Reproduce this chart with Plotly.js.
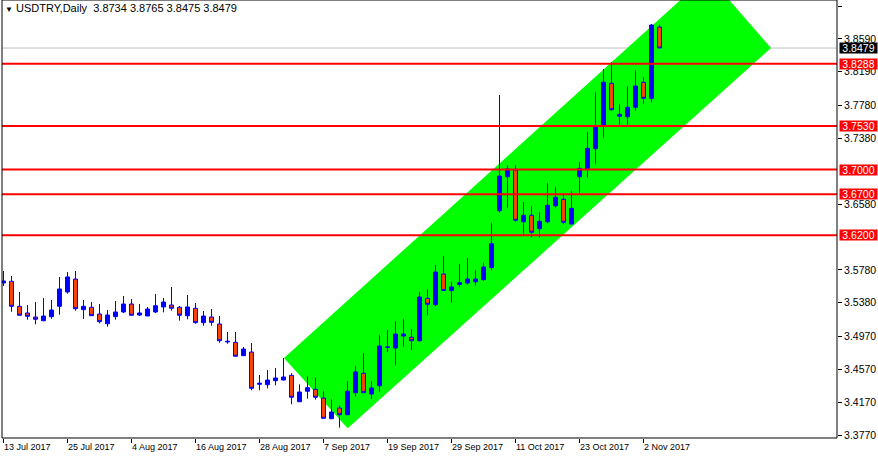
<!DOCTYPE html>
<html>
<head>
<meta charset="utf-8">
<script src="https://cdn.plot.ly/plotly-3.0.1.min.js"></script>
<style>html,body{margin:0;padding:0;background:#fff;}#chart{width:878px;height:459px;}</style>
</head>
<body>
<div id="chart"></div>
<script>
// Trading days (categories)
const dates = [
 '2017-07-13','2017-07-14','2017-07-17','2017-07-18','2017-07-19','2017-07-20','2017-07-21','2017-07-24','2017-07-25','2017-07-26',
 '2017-07-27','2017-07-28','2017-07-31','2017-08-01','2017-08-02','2017-08-03','2017-08-04','2017-08-07','2017-08-08','2017-08-09',
 '2017-08-10','2017-08-11','2017-08-14','2017-08-15','2017-08-16','2017-08-17','2017-08-18','2017-08-21','2017-08-22','2017-08-23',
 '2017-08-24','2017-08-25','2017-08-28','2017-08-29','2017-08-30','2017-08-31','2017-09-01','2017-09-04','2017-09-05','2017-09-06',
 '2017-09-07','2017-09-08','2017-09-11','2017-09-12','2017-09-13','2017-09-14','2017-09-15','2017-09-18','2017-09-19','2017-09-20',
 '2017-09-21','2017-09-22','2017-09-25','2017-09-26','2017-09-27','2017-09-28','2017-09-29','2017-10-02','2017-10-03','2017-10-04',
 '2017-10-05','2017-10-06','2017-10-09','2017-10-10','2017-10-11','2017-10-12','2017-10-13','2017-10-16','2017-10-17','2017-10-18',
 '2017-10-19','2017-10-20','2017-10-23','2017-10-24','2017-10-25','2017-10-26','2017-10-27','2017-10-30','2017-10-31','2017-11-01',
 '2017-11-02','2017-11-03','2017-11-06'];

const openP = [
 3.5620,3.5640,3.5336,3.5255,3.5206,3.5161,3.5210,3.5336,3.5510,3.5668,
 3.5295,3.5324,3.5242,3.5124,3.5210,3.5267,3.5364,3.5230,3.5218,3.5267,
 3.5328,3.5352,3.5324,3.5222,3.5312,3.5137,3.5206,3.5121,3.4902,3.4898,
 3.4735,3.4780,3.4387,3.4382,3.4431,3.4439,3.4496,3.4175,3.4302,3.4326,
 3.4220,3.3968,3.4099,3.4017,3.4285,3.4521,3.4269,3.4370,3.4837,3.4829,
 3.4975,3.4959,3.4917,3.5433,3.5356,3.5729,3.5528,3.5601,3.5620,3.5635,
 3.5660,3.5808,3.6499,3.6913,3.6995,3.6365,3.6443,3.6280,3.6365,3.6560,
 3.6638,3.6337,3.6913,3.7010,3.7254,3.7526,3.8050,3.7672,3.7643,3.7758,
 3.8062,3.7867,3.8734];
const highP = [
 3.5766,3.5705,3.5510,3.5352,3.5388,3.5437,3.5413,3.5693,3.5753,3.5766,
 3.5413,3.5388,3.5364,3.5291,3.5401,3.5461,3.5425,3.5364,3.5328,3.5486,
 3.5437,3.5571,3.5340,3.5474,3.5376,3.5279,3.5303,3.5218,3.5023,3.5023,
 3.4841,3.4889,3.4500,3.4561,3.4585,3.4707,3.4521,3.4387,3.4484,3.4472,
 3.4302,3.4204,3.4131,3.4427,3.4610,3.4768,3.4427,3.4987,3.5048,3.5157,
 3.5182,3.5060,3.5510,3.5543,3.5839,3.5948,3.5638,3.5851,3.5924,3.5778,
 3.5869,3.6350,3.7907,3.7055,3.7055,3.6605,3.6556,3.6480,3.6836,3.6784,
 3.6711,3.6739,3.7092,3.7457,3.7940,3.8224,3.8305,3.7794,3.8017,3.8211,
 3.8126,3.8771,3.8765];
const lowP = [
 3.5583,3.5270,3.5224,3.5173,3.5117,3.5154,3.5185,3.5234,3.5489,3.5283,
 3.5182,3.5222,3.5129,3.5088,3.5173,3.5255,3.5227,3.5218,3.5218,3.5255,
 3.5263,3.5283,3.5161,3.5178,3.5124,3.5100,3.5100,3.4893,3.4881,3.4728,
 3.4735,3.4314,3.4314,3.4338,3.4375,3.4436,3.4144,3.4175,3.4212,3.4200,
 3.3973,3.3968,3.3859,3.4017,3.4236,3.4285,3.4212,3.4297,3.4780,3.4625,
 3.4841,3.4804,3.4910,3.5227,3.5336,3.5526,3.5380,3.5565,3.5599,3.5587,
 3.5644,3.5774,3.6475,3.6536,3.6365,3.6195,3.6176,3.6171,3.6346,3.6536,
 3.6334,3.6334,3.6706,3.6901,3.7071,3.7380,3.7716,3.7521,3.7542,3.7716,
 3.7801,3.7818,3.8475];
const closeP = [
 3.5644,3.5336,3.5227,3.5214,3.5178,3.5218,3.5291,3.5547,3.5693,3.5307,
 3.5336,3.5222,3.5149,3.5230,3.5267,3.5364,3.5227,3.5255,3.5303,3.5343,
 3.5388,3.5312,3.5227,3.5328,3.5137,3.5218,3.5141,3.4917,3.4910,3.4728,
 3.4816,3.4338,3.4399,3.4439,3.4464,3.4476,3.4229,3.4293,3.4346,3.4229,
 3.3973,3.4050,3.4017,3.4302,3.4537,3.4285,3.4342,3.4853,3.4840,3.4999,
 3.4999,3.4917,3.5449,3.5360,3.5753,3.5528,3.5571,3.5623,3.5668,3.5668,
 3.5814,3.6098,3.6921,3.7007,3.6383,3.6443,3.6237,3.6370,3.6565,3.6662,
 3.6358,3.6528,3.7015,3.7259,3.7526,3.8062,3.7728,3.7648,3.7758,3.8017,
 3.7867,3.8759,3.8479];

// Horizontal support/resistance levels
const levels = [3.8288, 3.7530, 3.7000, 3.6700, 3.6200];
const bidPrice = 3.8479;

// Channel (rectangle object) corners: bar position and price
const channelIdx   = [35.06, 43.03, 95.94, 88.03];
const channelPrice = [3.4707, 3.3852, 3.8479, 3.9363];

// Axis tick labels
const xTickDates  = ['2017-07-13','2017-07-25','2017-08-04','2017-08-16','2017-08-28','2017-09-07','2017-09-19','2017-09-29','2017-10-11','2017-10-23','2017-11-02'];
const xTickLabels = ['13 Jul 2017','25 Jul 2017','4 Aug 2017','16 Aug 2017','28 Aug 2017','7 Sep 2017','19 Sep 2017','29 Sep 2017','11 Oct 2017','23 Oct 2017','2 Nov 2017'];
const yTicks = [3.8990,3.8590,3.8190,3.7780,3.7380,3.6580,3.5780,3.5380,3.4970,3.4570,3.4170,3.3770];

const FONT = 'Liberation Sans, Arial, sans-serif';
const BLUE = '#0000FF', RED_BODY = '#FF4500', LINE_RED = '#FF0000', LIME = '#00FF00';

const n = dates.length;
const barPos = dates.map((d, i) => i);           // position of each bar on the axis
const idxOf = d => dates.indexOf(d);

const traces = [
  {
    type: 'candlestick', x: barPos, open: openP, high: highP, low: lowP, close: closeP,
    text: dates,
    increasing: {line: {color: BLUE, width: 1}, fillcolor: BLUE},
    decreasing: {line: {color: BLUE, width: 1}, fillcolor: RED_BODY},
    whiskerwidth: 0, showlegend: false, hoverinfo: 'skip'
  }
];

const chanPath = channelIdx.map((x, i) => (i ? 'L' : 'M') + x + ',' + channelPrice[i]).join(' ') + ' Z';
const shapes = [
  {type: 'path', xref: 'x', yref: 'y', path: chanPath, fillcolor: LIME,
   line: {width: 0, color: LIME}, layer: 'below'},
  {type: 'line', xref: 'paper', x0: 0, x1: 1, yref: 'y', y0: bidPrice, y1: bidPrice,
   line: {color: '#C0C0C0', width: 1}, layer: 'below'}
];
levels.forEach(v => shapes.push({type: 'line', xref: 'paper', x0: 0, x1: 1, yref: 'y', y0: v, y1: v,
   line: {color: LINE_RED, width: 2}, layer: 'above'}));
shapes.push({type: 'rect', xref: 'paper', yref: 'paper', x0: 0, x1: 1, y0: 0, y1: 1,
   line: {color: '#000', width: 1}, fillcolor: 'rgba(0,0,0,0)', layer: 'above'});

const annotations = [];
const boxLabel = (v, bg) => ({xref: 'paper', x: 1, xanchor: 'left', xshift: 2, yref: 'y', y: v, yanchor: 'middle',
  text: v.toFixed(4), showarrow: false, bgcolor: bg, borderpad: 0, height: 10, width: 37,
  font: {family: FONT, size: 10.5, color: '#fff'}});
annotations.push(boxLabel(bidPrice, '#000'));
levels.forEach(v => annotations.push(boxLabel(v, LINE_RED)));

const last = n - 1;
const titleText = '<span style="font-size:8px">▼</span> USDTRY,Daily\u00A0\u00A0' +
  [openP[last], highP[last], lowP[last], closeP[last]].map(v => v.toFixed(4)).join(' ');

const layout = {
  width: 878, height: 459,
  margin: {l: 2, r: 41, t: 0, b: 21, pad: 0},
  paper_bgcolor: '#fff', plot_bgcolor: '#fff',
  showlegend: false, hovermode: false, dragmode: false,
  title: {text: titleText, xref: 'container', x: 5/878, xanchor: 'left',
          yref: 'container', y: 1 - 4/459, yanchor: 'top',
          font: {family: FONT, size: 11, color: '#000'}},
  xaxis: {
    type: 'linear', range: [-0.1875, 104.1875], fixedrange: true,
    rangeslider: {visible: false},
    tickmode: 'array', tickvals: xTickDates.map(idxOf), ticktext: xTickLabels,
    ticks: 'outside', ticklen: 4, tickcolor: '#000', tickwidth: 1,
    ticklabelposition: 'outside right', tickangle: 0,
    showgrid: false, zeroline: false, showline: false,
    tickfont: {family: FONT, size: 9, color: '#000'}
  },
  yaxis: {
    side: 'right', range: [3.37335, 3.90633], fixedrange: true,
    tickmode: 'array', tickvals: yTicks, ticktext: yTicks.map(v => v.toFixed(4)),
    ticks: 'outside', ticklen: 4, tickcolor: '#000', tickwidth: 1,
    showgrid: false, zeroline: false, showline: false,
    tickfont: {family: FONT, size: 10.5, color: '#000'}
  },
  shapes: shapes,
  annotations: annotations
};

Plotly.newPlot('chart', traces, layout, {displayModeBar: false, staticPlot: true});
</script>
</body>
</html>
